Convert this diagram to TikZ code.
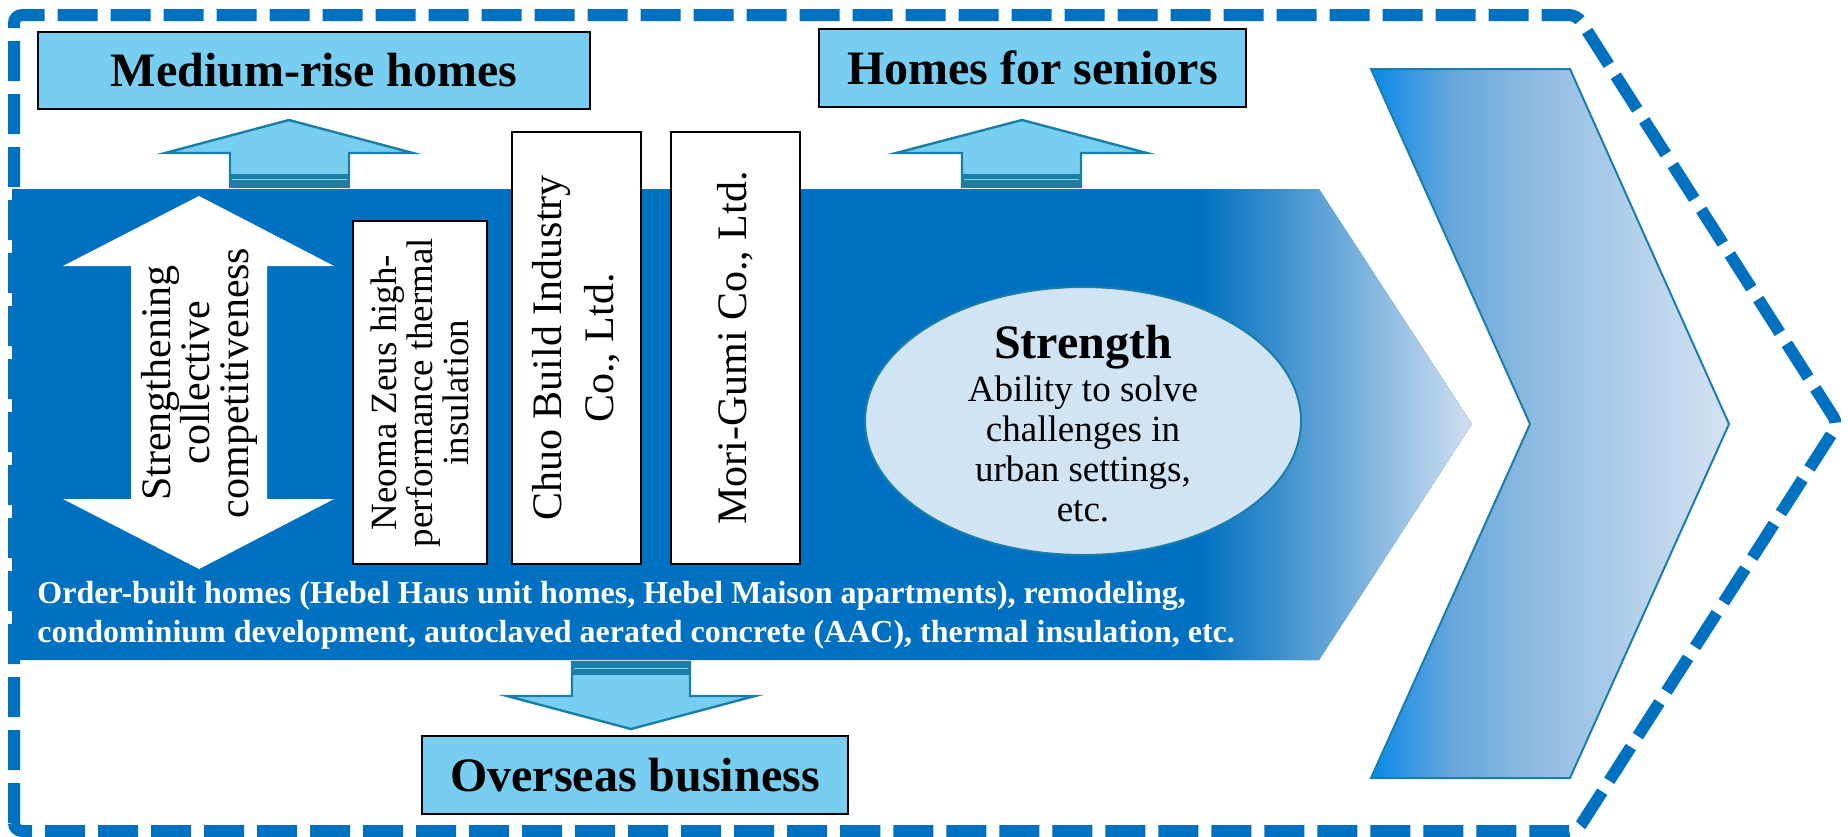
\documentclass[tikz,border=0pt]{standalone}
\usepackage{fontspec}
\setmainfont{Liberation Serif}
\usetikzlibrary{shapes.geometric}
\definecolor{myblue}{RGB}{0,112,192}
\definecolor{boxblue}{RGB}{120,206,240}
\definecolor{tealline}{RGB}{26,127,168}
\definecolor{ellfill}{RGB}{208,228,244}
\definecolor{bandend}{RGB}{210,224,242}
\definecolor{shaftline}{RGB}{150,210,235}
\pgfdeclarehorizontalshading{chevshade}{100bp}{rgb(0bp)=(0.03,0.54,0.91); rgb(25bp)=(0.03,0.54,0.91); rgb(36bp)=(0.40,0.65,0.86); rgb(50bp)=(0.58,0.75,0.89); rgb(75bp)=(0.84,0.89,0.95); rgb(100bp)=(0.84,0.89,0.95)}
\tikzset{
  titlebox/.style={draw=black, line width=1pt, fill=boxblue, inner sep=0pt, font=\fontsize{24}{28}\selectfont\bfseries},
  cobox/.style={draw=black, line width=1.2pt, fill=white, inner sep=0pt, rotate=90, align=center},
  fatarrow/.style={fill=boxblue, draw=tealline, line width=1.2pt, line join=miter},
  arrowbase/.style={fill=tealline},
  baseline/.style={draw=shaftline, line width=0.6pt},
  bandtext/.style={text=white, inner sep=0pt, anchor=base west, font=\fontsize{16}{19.5}\selectfont\bfseries},
}
\begin{document}
\begin{tikzpicture}[x=0.5pt, y=-0.5pt]
\useasboundingbox (0,0) rectangle (1848,836);
% main band
\fill[myblue] (12,189) -- (1319,189) -- (1472,424) -- (1319,660) -- (12,660) -- cycle;
\begin{scope}
  \clip (12,189) -- (1319,189) -- (1472,424) -- (1319,660) -- (12,660) -- cycle;
  \shade[left color=myblue, right color=bandend] (1200,185) rectangle (1474,664);
\end{scope}
% dashed outline
\draw[myblue, line width=6pt, dash pattern=on 20pt off 6.5pt, rounded corners=4pt]
  (14,831) -- (14,15) -- (1577,15) -- (1838,424) -- (1577,831) -- cycle;
% right chevron
\shadedraw[shading=chevshade, draw=tealline, line width=1pt]
  (1371,69) -- (1570,69) -- (1729,424) -- (1570,778) -- (1371,778) -- (1530,424) -- cycle;
% title boxes
\node[titlebox, minimum width=276pt, minimum height=38.5pt] (medium) at (314,70.5) {Medium-rise homes};
\node[titlebox, minimum width=213.5pt, minimum height=39pt] (seniors) at (1032.5,68) {Homes for seniors};
\node[titlebox, minimum width=213pt, minimum height=39pt] (overseas) at (635,775) {Overseas business};
% up arrows
\draw[fatarrow] (230,187) -- (230,153) -- (165,153) -- (289,120) -- (413,153) -- (349,153) -- (349,187) -- cycle;
\fill[arrowbase] (230,174) rectangle (349,187);
\draw[baseline] (232,179.5) -- (347,179.5);
\draw[fatarrow] (962,187) -- (962,153) -- (896,153) -- (1022,120) -- (1147,153) -- (1081,153) -- (1081,187) -- cycle;
\fill[arrowbase] (962,174) rectangle (1081,187);
\draw[baseline] (964,179.5) -- (1079,179.5);
% down arrow
\draw[fatarrow] (572,662) -- (572,696) -- (507,696) -- (631,729) -- (755,696) -- (690,696) -- (690,662) -- cycle;
\fill[arrowbase] (572,662) rectangle (690,675);
\draw[baseline] (574,668.5) -- (688,668.5);
% double arrow
\fill[white] (199,196) -- (334,266) -- (267,266) -- (267,499) -- (334,499) -- (199,569) -- (63,499) -- (131,499) -- (131,266) -- (63,266) -- cycle;
\node[rotate=90, align=center, inner sep=0pt, font=\fontsize{21}{19.5}\selectfont] (strengthen) at (199,383) {Strengthening\\collective\\competitiveness};
% company boxes
\node[cobox, minimum width=171.5pt, minimum height=67pt, font=\fontsize{18.5}{16.3}\selectfont] (neoma) at (420,392.5) {Neoma Zeus high-\\performance thermal\\insulation};
\node[cobox, minimum width=216pt, minimum height=64.5pt, font=\fontsize{21}{26}\selectfont] (chuo) at (576.5,348) {Chuo Build Industry\\Co., Ltd.};
\node[cobox, minimum width=216pt, minimum height=64.5pt, font=\fontsize{21}{26}\selectfont] (mori) at (735.5,348) {Mori-Gumi Co., Ltd.};
% ellipse
\node[ellipse, draw=tealline, line width=1pt, fill=ellfill, minimum width=218pt, minimum height=134pt, inner sep=0pt] (strength) at (1083,421) {};
\node[align=center, inner sep=0pt, font=\fontsize{18.5}{20}\selectfont] (strengthtext) at (1083,424) {{\fontsize{24}{26}\selectfont\bfseries Strength}\\[1.5pt]Ability to solve\\challenges in\\urban settings,\\etc.};
% band text
\node[bandtext] (bandA) at (37,603) {Order-built homes (Hebel Haus unit homes, Hebel Maison apartments), remodeling,};
\node[bandtext] (bandB) at (37,642) {condominium development, autoclaved aerated concrete (AAC), thermal insulation, etc.};
\end{tikzpicture}
\end{document}
